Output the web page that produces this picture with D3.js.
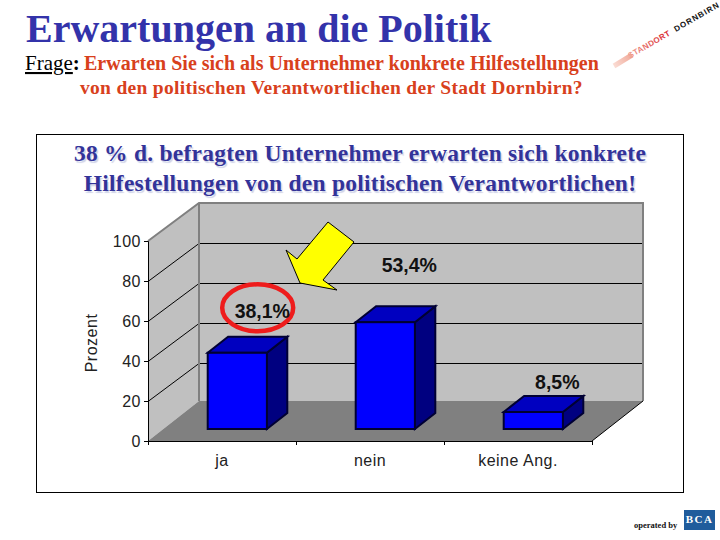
<!DOCTYPE html>
<html>
<head>
<meta charset="utf-8">
<script src="https://cdn.jsdelivr.net/npm/d3@7"></script>
<style>
  html, body { margin: 0; padding: 0; background: #fff; }
  svg { display: block; }
  text { font-family: "Liberation Sans", Arial, sans-serif; }
  .serif { font-family: "Liberation Serif", "Times New Roman", serif; font-weight: bold; }
  .tick text { font-size: 16px; letter-spacing: 0.5px; fill: #222; font-family: "Liberation Sans", Arial, sans-serif; }
</style>
</head>
<body>
<svg id="chart" width="720" height="540"></svg>
<script>
const categories = ["ja", "nein", "keine Ang."];
const values = [38.1, 53.4, 8.5];
const valueLabels = ["38,1%", "53,4%", "8,5%"];
const yTicks = [0, 20, 40, 60, 80, 100];

// where the labels sit relative to the top front edge of each bar
const labelOffsetX = [25, 24, 24];
const labelOffsetY = [-35, -50, -23];

// hand placed annotations
const arrowPoints = [[328,222],[354,242],[323,280],[337,290],[300,283],[286,250],[297,259]];

var svg = d3.select("#chart");

var margin = {left: 148, right: 592, top: 241, bottom: 441};
var depthX = 51, depthY = -40;
var wallDepthY = -38; // walls lean a little less than the floor in the original
var barFrom = 0.3, barTo = 0.7;

var x = d3.scaleBand().domain(categories)
  .range([margin.left, margin.right])
  .paddingInner(0.6).paddingOuter(0.3);

var y = d3.scaleLinear().domain([0, 100]).range([margin.bottom, margin.top]);

var poly = d3.line();

// page heading
svg.append("text").attr("class", "serif")
  .attr("x", 26).attr("y", 42)
  .attr("font-size", 40).attr("fill", "#3333aa")
  .text("Erwartungen an die Politik");

var q1 = svg.append("text").attr("class", "serif")
  .attr("x", 25).attr("y", 70).attr("font-size", 21);
q1.append("tspan").attr("font-weight", "normal").attr("text-decoration", "underline").attr("fill", "#000").text("Frage");
q1.append("tspan").attr("fill", "#000").text(":");

svg.append("text").attr("class", "serif")
  .attr("x", 84).attr("y", 70).attr("font-size", 20)
  .attr("fill", "#d8401c")
  .text("Erwarten Sie sich als Unternehmer konkrete Hilfestellungen");

svg.append("text").attr("class", "serif")
  .attr("x", 80).attr("y", 94).attr("font-size", 19.5)
  .attr("fill", "#d8401c")
  .attr("letter-spacing", 0.3)
  .text("von den politischen Verantwortlichen der Stadt Dornbirn?");

// logo top right
var defs = svg.append("defs");
var grad = defs.append("linearGradient")
  .attr("id", "logoFade").attr("gradientUnits", "userSpaceOnUse")
  .attr("x1", 613).attr("y1", 67).attr("x2", 632).attr("y2", 55);
grad.append("stop").attr("offset", 0).attr("stop-color", "#fbe0d8");
grad.append("stop").attr("offset", 1).attr("stop-color", "#f0a898");

// the text gradient is in the text's own rotated coordinates
var textGrad = defs.append("linearGradient")
  .attr("id", "logoText").attr("gradientUnits", "userSpaceOnUse")
  .attr("x1", 0).attr("y1", 0).attr("x2", 47).attr("y2", 0);
textGrad.append("stop").attr("offset", 0).attr("stop-color", "#f0a090");
textGrad.append("stop").attr("offset", 1).attr("stop-color", "#d81e28");

svg.append("line")
  .attr("x1", 614).attr("y1", 66).attr("x2", 632).attr("y2", 55)
  .attr("stroke", "url(#logoFade)").attr("stroke-width", 5);

svg.append("text")
  .attr("transform", "translate(630,58.5) rotate(-30)")
  .attr("font-size", 8).attr("font-weight", "bold")
  .attr("textLength", 47).attr("lengthAdjust", "spacing")
  .attr("fill", "url(#logoText)")
  .text("STANDORT");

svg.append("text")
  .attr("transform", "translate(676,32) rotate(-30)")
  .attr("font-size", 8).attr("font-weight", "bold").attr("letter-spacing", 1)
  .attr("fill", "#111")
  .text("DORNBIRN");

// panel
svg.append("rect")
  .attr("x", 36.5).attr("y", 134.5).attr("width", 647).attr("height", 358)
  .attr("fill", "#fff").attr("stroke", "#000");

var panelTitle = ["38 % d. befragten Unternehmer erwarten sich konkrete",
                  "Hilfestellungen von den politischen Verantwortlichen!"];
panelTitle.forEach(function(t, i) {
  svg.append("text").attr("class", "serif")
    .attr("x", 360).attr("y", 161 + i * 30)
    .attr("text-anchor", "middle").attr("font-size", 23.5)
    .attr("letter-spacing", 0.25)
    .attr("fill", "#333399")
    .style("text-shadow", "1.5px 1.5px 1px #d0d4e8")
    .text(t);
});

// 3d box: side wall, back wall, floor
var x0 = margin.left, x1 = margin.right;
var yBase = y(0), yTop = y(100);

svg.append("path").attr("fill", "#c0c0c0")
  .attr("d", poly([[x0,yBase],[x0,yTop],[x0+depthX,yTop+wallDepthY],[x0+depthX,yBase+depthY]]) + "Z");
svg.append("path").attr("fill", "#c0c0c0")
  .attr("d", poly([[x0+depthX,yBase+depthY],[x0+depthX,yTop+wallDepthY],[x1+depthX,yTop+wallDepthY],[x1+depthX,yBase+depthY]]) + "Z");
svg.append("path").attr("fill", "#808080")
  .attr("d", poly([[x0,yBase],[x0+depthX,yBase+depthY],[x1+depthX,yBase+depthY],[x1,yBase]]) + "Z");

// gridlines run up the side wall and along the back
yTicks.filter(function(d) { return d > 0 && d < 100; }).forEach(function(d) {
  svg.append("path").attr("fill", "none").attr("stroke", "#000").attr("stroke-width", 1)
    .attr("d", poly([[x0,y(d)+0.5],[x0+depthX,y(d)+wallDepthY+0.5],[x1+depthX,y(d)+wallDepthY+0.5]]));
});

// wall edges
svg.append("path").attr("fill", "none").attr("stroke", "#808080").attr("stroke-width", 2)
  .attr("d", poly([[x0,yTop],[x0+depthX,yTop+wallDepthY],[x1+depthX,yTop+wallDepthY],[x1+depthX,yBase+depthY]]));
svg.append("line").attr("stroke", "#808080").attr("stroke-width", 2)
  .attr("x1", x0+depthX).attr("y1", yTop+wallDepthY).attr("x2", x0+depthX).attr("y2", yBase+depthY);
svg.append("line").attr("stroke", "#000")
  .attr("x1", x1).attr("y1", yBase).attr("x2", x1+depthX).attr("y2", yBase+depthY);

// axes
var yAxis = d3.axisLeft(y).tickValues(yTicks).tickSize(4).tickPadding(3);
var gY = svg.append("g").attr("transform", "translate(" + x0 + ",0)").call(yAxis);
gY.selectAll("path, line").attr("stroke", "#000");

var xAxis = d3.axisBottom(x).tickSize(0).tickPadding(14);
var gX = svg.append("g").attr("transform", "translate(0," + yBase + ")").call(xAxis);
gX.select("path").attr("stroke", "#000");
d3.range(categories.length + 1).forEach(function(i) {
  gX.append("line").attr("stroke", "#000")
    .attr("x1", x0 + i * x.step() + 0.5).attr("x2", x0 + i * x.step() + 0.5)
    .attr("y1", 0).attr("y2", 4);
});

svg.append("text")
  .attr("transform", "translate(97,343) rotate(-90)")
  .attr("text-anchor", "middle").attr("font-size", 16).attr("letter-spacing", 0.5).attr("fill", "#222")
  .text("Prozent");

// bars
var bars = svg.selectAll(".bar").data(values).enter().append("g").attr("class", "bar");
var barStroke = "#000033";

function barPts(d, i) {
  var left = x(categories[i]) + depthX * barFrom;
  var right = left + x.bandwidth();
  var bottom = y(0) + depthY * barFrom;
  var top = bottom - (y(0) - y(d));
  var dx = depthX * (barTo - barFrom), dy = depthY * (barTo - barFrom);
  return {left: left, right: right, bottom: bottom, top: top, dx: dx, dy: dy};
}

bars.append("path").attr("fill", "#000080").attr("stroke", barStroke).attr("stroke-width", 2)
  .attr("d", function(d, i) {
    var b = barPts(d, i);
    return poly([[b.right,b.bottom],[b.right,b.top],[b.right+b.dx,b.top+b.dy],[b.right+b.dx,b.bottom+b.dy]]) + "Z";
  });
bars.append("path").attr("fill", "#0000c0").attr("stroke", barStroke).attr("stroke-width", 2)
  .attr("d", function(d, i) {
    var b = barPts(d, i);
    return poly([[b.left,b.top],[b.left+b.dx,b.top+b.dy],[b.right+b.dx,b.top+b.dy],[b.right,b.top]]) + "Z";
  });
bars.append("rect").attr("fill", "#0000ff").attr("stroke", barStroke).attr("stroke-width", 2)
  .attr("x", function(d, i) { return barPts(d, i).left; })
  .attr("y", function(d, i) { return barPts(d, i).top; })
  .attr("width", x.bandwidth())
  .attr("height", function(d, i) { var b = barPts(d, i); return b.bottom - b.top; });

// red ring around the first value
var ring = barPts(values[0], 0);
svg.append("ellipse")
  .attr("cx", ring.left + 50).attr("cy", ring.top - 45)
  .attr("rx", 35.5).attr("ry", 23.5)
  .attr("fill", "none").attr("stroke", "#ee1c1c").attr("stroke-width", 4.5);

// yellow arrow pointing at it
svg.append("path")
  .attr("fill", "#ffff00").attr("stroke", "#000").attr("stroke-width", 1)
  .attr("d", poly(arrowPoints) + "Z");

// value labels
svg.selectAll(".val").data(values).enter().append("text").attr("class", "val")
  .attr("x", function(d, i) { var b = barPts(d, i); return (b.left + b.right) / 2 + labelOffsetX[i]; })
  .attr("y", function(d, i) { return barPts(d, i).top + labelOffsetY[i]; })
  .attr("text-anchor", "middle").attr("font-size", 19.5).attr("font-weight", "bold")
  .attr("fill", "#111")
  .text(function(d, i) { return valueLabels[i]; });

// footer
svg.append("text").attr("class", "serif")
  .attr("x", 634).attr("y", 528).attr("font-size", 8.5).attr("fill", "#111")
  .text("operated by");
svg.append("rect")
  .attr("x", 684).attr("y", 510).attr("width", 31).attr("height", 20)
  .attr("fill", "#1f5c9c");
svg.append("text").attr("class", "serif")
  .attr("x", 699.5).attr("y", 523).attr("text-anchor", "middle")
  .attr("font-size", 11).attr("font-weight", "normal").attr("letter-spacing", 1.5)
  .attr("fill", "#fff")
  .text("BCA");
</script>
</body>
</html>
